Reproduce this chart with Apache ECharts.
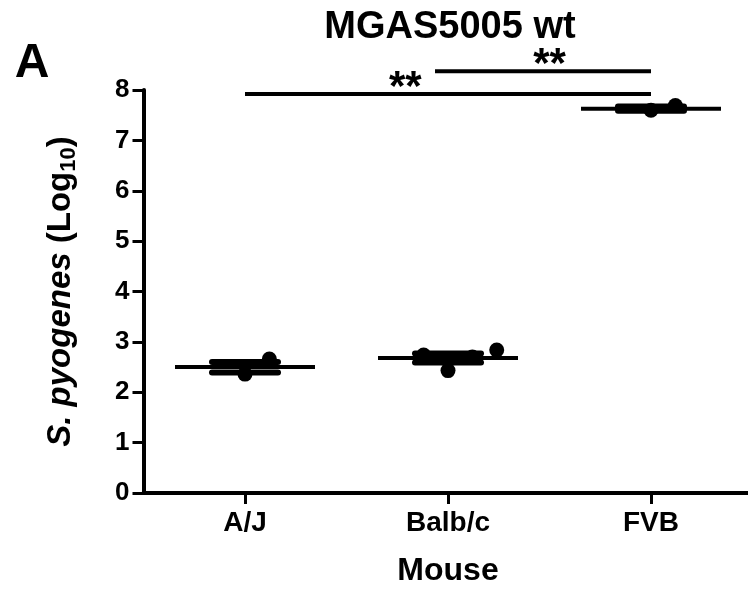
<!DOCTYPE html>
<html>
<head>
<meta charset="utf-8">
<script src="https://cdn.jsdelivr.net/npm/echarts@6/dist/echarts.min.js"></script>
<style>
html,body{margin:0;padding:0;background:#fff;}
#chart{width:748px;height:592px;}
</style>
</head>
<body>
<div id="chart"></div>
<script>
// ---- data ----
const categories = ['A/J', 'Balb/c', 'FVB'];
const meanValues = [2.50, 2.68, 7.63];
const semLow = [2.39, 2.59, 7.59];
const semHigh = [2.60, 2.77, 7.67];
// individual animals: group index, horizontal spread (category units), value
const pointGroup = [0, 0, 1, 1, 1, 1, 2, 2];
const pointSpread = [0, 0.12, -0.12, 0, 0.12, 0.24, 0, 0.12];
const pointValues = [2.36, 2.66, 2.74, 2.43, 2.70, 2.84, 7.60, 7.69];
// significance brackets
const sigFrom = [0, 0.936];
const sigTo = [2, 2];
const sigLevel = [7.92, 8.37];
const sigLabelAt = [0.79, 1.5];
const sigLabels = ['**', '**'];
const yMin = 0, yMax = 8, yStep = 1;

const FONT = '"Liberation Sans", Arial, sans-serif';
const chart = echarts.init(document.getElementById('chart'), null, {renderer: 'canvas'});

const summaryData = categories.map((c, i) => [i, meanValues[i], semLow[i], semHigh[i]]);
const pointData = pointValues.map((v, i) => [pointGroup[i] + pointSpread[i], v]);
const sigData = sigFrom.map((f, i) => [f, sigTo[i], sigLevel[i], sigLabelAt[i], i]);

const option = {
  animation: false,
  backgroundColor: '#fff',
  grid: {left: 143.5, top: 90, width: 609, height: 403, containLabel: false, outerBoundsMode: 'none'},
  graphic: [
    {type: 'text', silent: true, x: 450, y: 28,
     style: {text: 'MGAS5005 wt', font: 'bold 38px ' + FONT, fill: '#000',
             textAlign: 'center', textVerticalAlign: 'middle'}},
    {type: 'text', silent: true, x: 32, y: 64,
     style: {text: 'A', font: 'bold 48px ' + FONT, fill: '#000', textAlign: 'center', textVerticalAlign: 'middle'}}
  ],
  xAxis: [
    {
      type: 'category', data: categories, boundaryGap: true,
      axisLine: {show: true, lineStyle: {color: '#000', width: 4}},
      axisTick: {show: true, alignWithLabel: true, length: 11, lineStyle: {color: '#000', width: 3}},
      axisLabel: {color: '#000', fontSize: 28, fontWeight: 'bold', fontFamily: FONT, margin: 16},
      splitLine: {show: false},
      name: 'Mouse', nameLocation: 'middle', nameGap: 62,
      nameTextStyle: {color: '#000', fontSize: 32, fontWeight: 'bold', fontFamily: FONT}
    },
    {type: 'value', min: -0.5, max: 2.5, show: false}
  ],
  yAxis: {
    type: 'value', min: yMin, max: yMax, interval: yStep,
    axisLine: {show: true, onZero: false, lineStyle: {color: '#000', width: 4}},
    axisTick: {show: true, length: 11, lineStyle: {color: '#000', width: 3}},
    axisLabel: {color: '#000', fontSize: 26, fontWeight: 'bold', fontFamily: FONT, margin: 14},
    splitLine: {show: false},
    name: '{i|S. pyogenes}{n| (Log}{s|10}{n|)}',
    nameLocation: 'middle', nameRotate: 90, nameGap: 64,
    nameTextStyle: {
      color: '#000', fontFamily: FONT,
      rich: {
        i: {fontSize: 33, fontWeight: 'bold', fontStyle: 'italic', fontFamily: FONT, color: '#000', lineHeight: 38},
        n: {fontSize: 33, fontWeight: 'bold', fontFamily: FONT, color: '#000', lineHeight: 38},
        s: {fontSize: 22, fontWeight: 'bold', fontFamily: FONT, color: '#000', lineHeight: 26, verticalAlign: 'bottom'}
      }
    }
  },
  series: [
    {
      type: 'custom', xAxisIndex: 1, yAxisIndex: 0, clip: false, z: 2,
      data: summaryData,
      renderItem: function (params, api) {
        const x = api.value(0);
        const m = api.coord([x, api.value(1)]);
        const lo = api.coord([x, api.value(2)]);
        const hi = api.coord([x, api.value(3)]);
        const black = {stroke: '#000', lineWidth: 4};
        return {type: 'group', children: [
          {type: 'line', shape: {x1: m[0] - 70, y1: m[1], x2: m[0] + 70, y2: m[1]}, style: black},
          {type: 'line', shape: {x1: lo[0], y1: lo[1], x2: hi[0], y2: hi[1]}, style: black},
          {type: 'line', shape: {x1: lo[0] - 33, y1: lo[1], x2: lo[0] + 33, y2: lo[1]}, style: {stroke: '#000', lineWidth: 6, lineCap: 'round'}},
          {type: 'line', shape: {x1: hi[0] - 33, y1: hi[1], x2: hi[0] + 33, y2: hi[1]}, style: {stroke: '#000', lineWidth: 6, lineCap: 'round'}}
        ]};
      }
    },
    {
      type: 'scatter', xAxisIndex: 1, yAxisIndex: 0, z: 3,
      data: pointData, symbol: 'circle', symbolSize: 15,
      itemStyle: {color: '#000', opacity: 1}
    },
    {
      type: 'custom', xAxisIndex: 1, yAxisIndex: 0, clip: false, z: 4,
      data: sigData,
      renderItem: function (params, api) {
        const a = api.coord([api.value(0), api.value(2)]);
        const b = api.coord([api.value(1), api.value(2)]);
        const t = api.coord([api.value(3), api.value(2)]);
        return {type: 'group', children: [
          {type: 'line', shape: {x1: a[0], y1: a[1], x2: b[0], y2: b[1]}, style: {stroke: '#000', lineWidth: 4}},
          {type: 'text', style: {text: sigLabels[api.value(4)], x: t[0], y: t[1] - 6,
            font: 'bold 42px ' + FONT, fill: '#000', textAlign: 'center', textVerticalAlign: 'middle'}}
        ]};
      }
    }
  ]
};
chart.setOption(option);
</script>
</body>
</html>
